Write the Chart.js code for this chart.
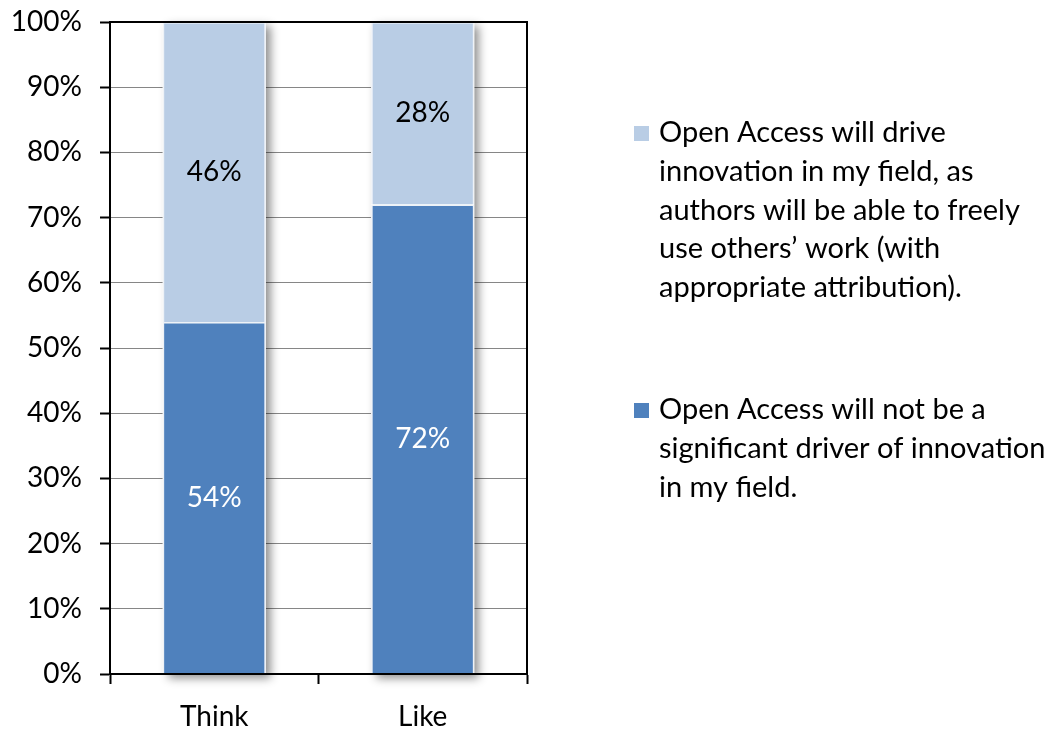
<!DOCTYPE html>
<html>
<head>
<meta charset="utf-8">
<script src="https://cdn.jsdelivr.net/npm/chart.js@4.4.1/dist/chart.umd.min.js"></script>
<style>
  html, body { margin: 0; padding: 0; background: #fff; }
  canvas { display: block; }
</style>
</head>
<body>
<canvas id="chart" width="1059" height="729"></canvas>
<script>
// Survey responses by question type
const categories = ['Think', 'Like'];
const notDriverValues = [54, 72];
const driveValues = [46, 28];
const notDriverLines = ['Open Access will not be a', 'significant driver of innovation', 'in my field.'];
const driveLines = ['Open Access will drive', 'innovation in my field, as', 'authors will be able to freely', 'use others\u2019 work (with', 'appropriate attribution).'];
const yTicks = [0, 10, 20, 30, 40, 50, 60, 70, 80, 90, 100];

const FONT = 'Lato, "Open Sans", sans-serif';
const FONT_SIZE = 28;
const LEGEND_FONT_SIZE = 29;
const DARK = '#4F81BD';
const LIGHT = '#B9CDE5';

// Soft drop shadow behind each bar stack, using the laid-out bar elements
const barShadow = {
  id: 'barShadow',
  beforeDatasetsDraw(chart) {
    const ctx = chart.ctx;
    const metas = chart.data.datasets.map((_, di) => chart.getDatasetMeta(di));
    ctx.save();
    ctx.shadowColor = 'rgba(0,0,0,0.45)';
    ctx.shadowBlur = 9;
    ctx.shadowOffsetX = 5;
    ctx.shadowOffsetY = 4;
    ctx.fillStyle = '#fff';
    metas[0].data.forEach((bar, i) => {
      const top = Math.min(...metas.map(m => m.data[i].y));
      const base = bar.base;
      const half = bar.width / 2;
      ctx.fillRect(bar.x - half, top, bar.width, base - top);
    });
    ctx.restore();
  }
};

// Black frame around the plot area
const plotFrame = {
  id: 'plotFrame',
  afterDraw(chart) {
    const { ctx, chartArea: a } = chart;
    ctx.save();
    ctx.strokeStyle = '#000';
    ctx.lineWidth = 2;
    ctx.strokeRect(a.left, a.top, a.right - a.left, a.bottom - a.top);
    ctx.restore();
  }
};

// Percentage labels centred in each segment
const segmentLabels = {
  id: 'segmentLabels',
  afterDatasetsDraw(chart) {
    const ctx = chart.ctx;
    ctx.save();
    ctx.font = FONT_SIZE + 'px ' + FONT;
    ctx.textAlign = 'center';
    ctx.textBaseline = 'middle';
    chart.data.datasets.forEach((ds, di) => {
      const meta = chart.getDatasetMeta(di);
      meta.data.forEach((bar, i) => {
        const y = (bar.y + bar.base) / 2;
        ctx.fillStyle = ds.labelColor;
        ctx.fillText(ds.data[i] + '%', bar.x, y);
      });
    });
    ctx.restore();
  }
};

// Legend drawn on the right with wrapped lines
const sideLegend = {
  id: 'sideLegend',
  afterDraw(chart) {
    const ctx = chart.ctx;
    ctx.save();
    ctx.font = LEGEND_FONT_SIZE + 'px ' + FONT;
    ctx.textAlign = 'left';
    ctx.textBaseline = 'middle';
    const items = [
      { color: LIGHT, lines: driveLines, y: 133 },
      { color: DARK, lines: notDriverLines, y: 410 }
    ];
    const lineH = 38.6;
    items.forEach(it => {
      ctx.fillStyle = it.color;
      ctx.fillRect(634, it.y - 7, 15, 15);
      ctx.fillStyle = '#000';
      it.lines.forEach((t, k) => ctx.fillText(t, 659, it.y + k * lineH));
    });
    ctx.restore();
  }
};

new Chart(document.getElementById('chart'), {
  type: 'bar',
  data: {
    labels: categories,
    datasets: [
      {
        label: notDriverLines.join(' '),
        data: notDriverValues,
        backgroundColor: DARK,
        borderColor: '#EEF2F7',
        borderWidth: 1.5,
        labelColor: '#FFFFFF',
        categoryPercentage: 1,
        barPercentage: 0.495
      },
      {
        label: driveLines.join(' '),
        data: driveValues,
        backgroundColor: LIGHT,
        borderColor: '#EEF2F7',
        borderWidth: 1.5,
        labelColor: '#000000',
        categoryPercentage: 1,
        barPercentage: 0.495
      }
    ]
  },
  options: {
    responsive: false,
    animation: false,
    events: [],
    layout: { padding: { top: 22, right: 532, left: 0, bottom: 0 } },
    plugins: {
      legend: { display: false },
      tooltip: { enabled: false }
    },
    scales: {
      x: {
        stacked: true,
        afterFit(s) { s.height = 55; s.paddingLeft = 0; s.paddingRight = 0; },
        grid: {
          display: true,
          offset: true,
          drawOnChartArea: false,
          drawTicks: true,
          tickLength: 10,
          tickColor: '#000',
          tickWidth: 2
        },
        border: { display: true, color: '#000', width: 2 },
        ticks: { color: '#000', font: { family: FONT, size: FONT_SIZE }, padding: 16 }
      },
      y: {
        stacked: true,
        min: 0,
        max: 100,
        afterFit(s) { s.width = 110; s.paddingTop = 0; s.paddingBottom = 0; },
        afterBuildTicks(s) { s.ticks = yTicks.map(v => ({ value: v })); },
        grid: {
          color: '#868686',
          lineWidth: 1,
          tickLength: 10,
          tickColor: '#000',
          tickWidth: 2
        },
        border: { display: true, color: '#000', width: 2 },
        ticks: {
          color: '#000',
          font: { family: FONT, size: FONT_SIZE },
          padding: 18,
          callback: v => v + '%'
        }
      }
    }
  },
  plugins: [barShadow, segmentLabels, plotFrame, sideLegend]
});
</script>
</body>
</html>
